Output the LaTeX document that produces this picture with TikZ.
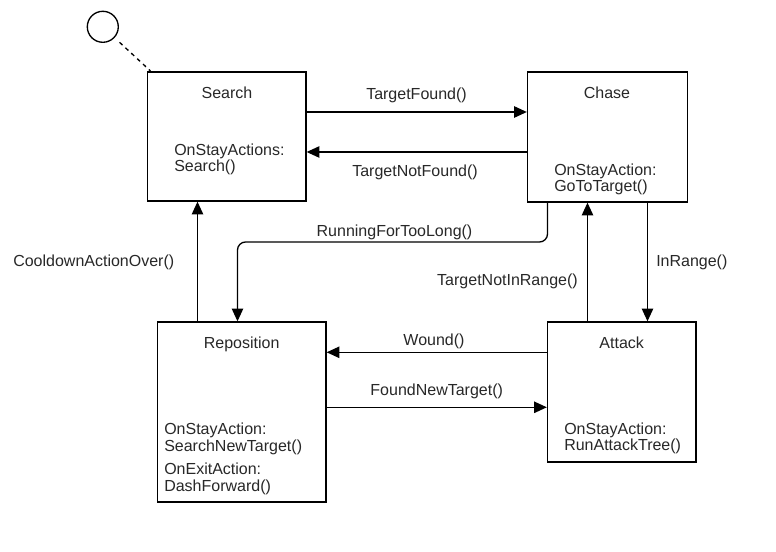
\documentclass[tikz,border=0pt]{standalone}
\usepackage{fontspec}
\setmainfont{Liberation Sans}
\usetikzlibrary{arrows.meta,fit}
\definecolor{txtcol}{RGB}{40,40,40}
\tikzset{
  statebox/.style={draw=black, line width=1pt, inner sep=0pt, fill=white},
  arr/.style={draw=black, line width=1pt, -{Triangle[length=9.5pt,width=8.5pt]}},
  lbl/.style={inner sep=0pt, yshift=-1.5pt, text=txtcol, font=\fontsize{12pt}{14pt}\selectfont, text height=8.8pt, text depth=2.5pt},
  initstate/.style={circle, draw=black, line width=1pt, minimum size=23.25pt, inner sep=0pt},
  initline/.style={draw=black, line width=1pt, dash pattern=on 3pt off 3pt}
}
\begin{document}
\begin{tikzpicture}[x=0.75pt,y=-0.75pt]
\useasboundingbox[fill=white] (0,0) rectangle (776,552);

% states
\node[statebox, fit={(147.5,72) (306,201)}] (search) {};
\node[statebox, fit={(527.5,72) (687.5,202)}] (chase) {};
\node[statebox, fit={(157.5,322) (326,502)}] (repos) {};
\node[statebox, fit={(547.5,322) (696,462)}] (attack) {};

% initial state
\node[initstate] (init) at (102.8,26.8) {};
\coordinate (initend) at (150.5,71);
\draw[initline, shorten <=5pt] (init) -- (initend);

% state texts
\node[lbl] (searchT) at (227,92) {Search};
\node[lbl, anchor=west] (searchA) at (174,149) {OnStayActions:};
\node[lbl, anchor=west] (searchB) at (174,165) {Search()};

\node[lbl] (chaseT) at (607,92) {Chase};
\node[lbl, anchor=west] (chaseA) at (554,169) {OnStayAction:};
\node[lbl, anchor=west] (chaseB) at (554,185) {GoToTarget()};

\node[lbl] (reposT) at (241.7,342) {Reposition};
\node[lbl, anchor=west] (reposA) at (164,428) {OnStayAction:};
\node[lbl, anchor=west] (reposB) at (164,445) {SearchNewTarget()};
\node[lbl, anchor=west] (reposC) at (164,468) {OnExitAction:};
\node[lbl, anchor=west] (reposD) at (164,485) {DashForward()};

\node[lbl] (attackT) at (621.7,342) {Attack};
\node[lbl, anchor=west] (attackA) at (564,428) {OnStayAction:};
\node[lbl, anchor=west] (attackB) at (564,444) {RunAttackTree()};

% transitions
\draw[arr] (search.east |- 0,112) -- (chase.west |- 0,112);
\draw[arr] (chase.west |- 0,152) -- (search.east |- 0,152);
\draw[arr, rounded corners=6pt] (chase.south -| 547.5,0) -- (547.5,242) -- (237.5,242) -- (repos.north -| 237.5,0);
\draw[arr] (repos.north -| 197.5,0) -- (search.south -| 197.5,0);
\draw[arr] (attack.north -| 587.5,0) -- (chase.south -| 587.5,0);
\draw[arr] (chase.south -| 647.5,0) -- (attack.north -| 647.5,0);
\draw[arr] (attack.west |- 0,352.3) -- (repos.east |- 0,352.3);
\draw[arr] (repos.east |- 0,407.3) -- (attack.west |- 0,407.3);

% transition labels
\node[lbl] (lFound) at (416.5,93.5) {TargetFound()};
\node[lbl] (lNotFound) at (415,170) {TargetNotFound()};
\node[lbl] (lLong) at (394.5,230) {RunningForTooLong()};
\node[lbl, anchor=east] (lCool) at (174.5,260) {CooldownActionOver()};
\node[lbl, anchor=east] (lNotIn) at (578,279.5) {TargetNotInRange()};
\node[lbl, anchor=west] (lIn) at (656,260.5) {InRange()};
\node[lbl] (lWound) at (434,339) {Wound()};
\node[lbl] (lNew) at (436.7,389) {FoundNewTarget()};
\end{tikzpicture}
\end{document}
